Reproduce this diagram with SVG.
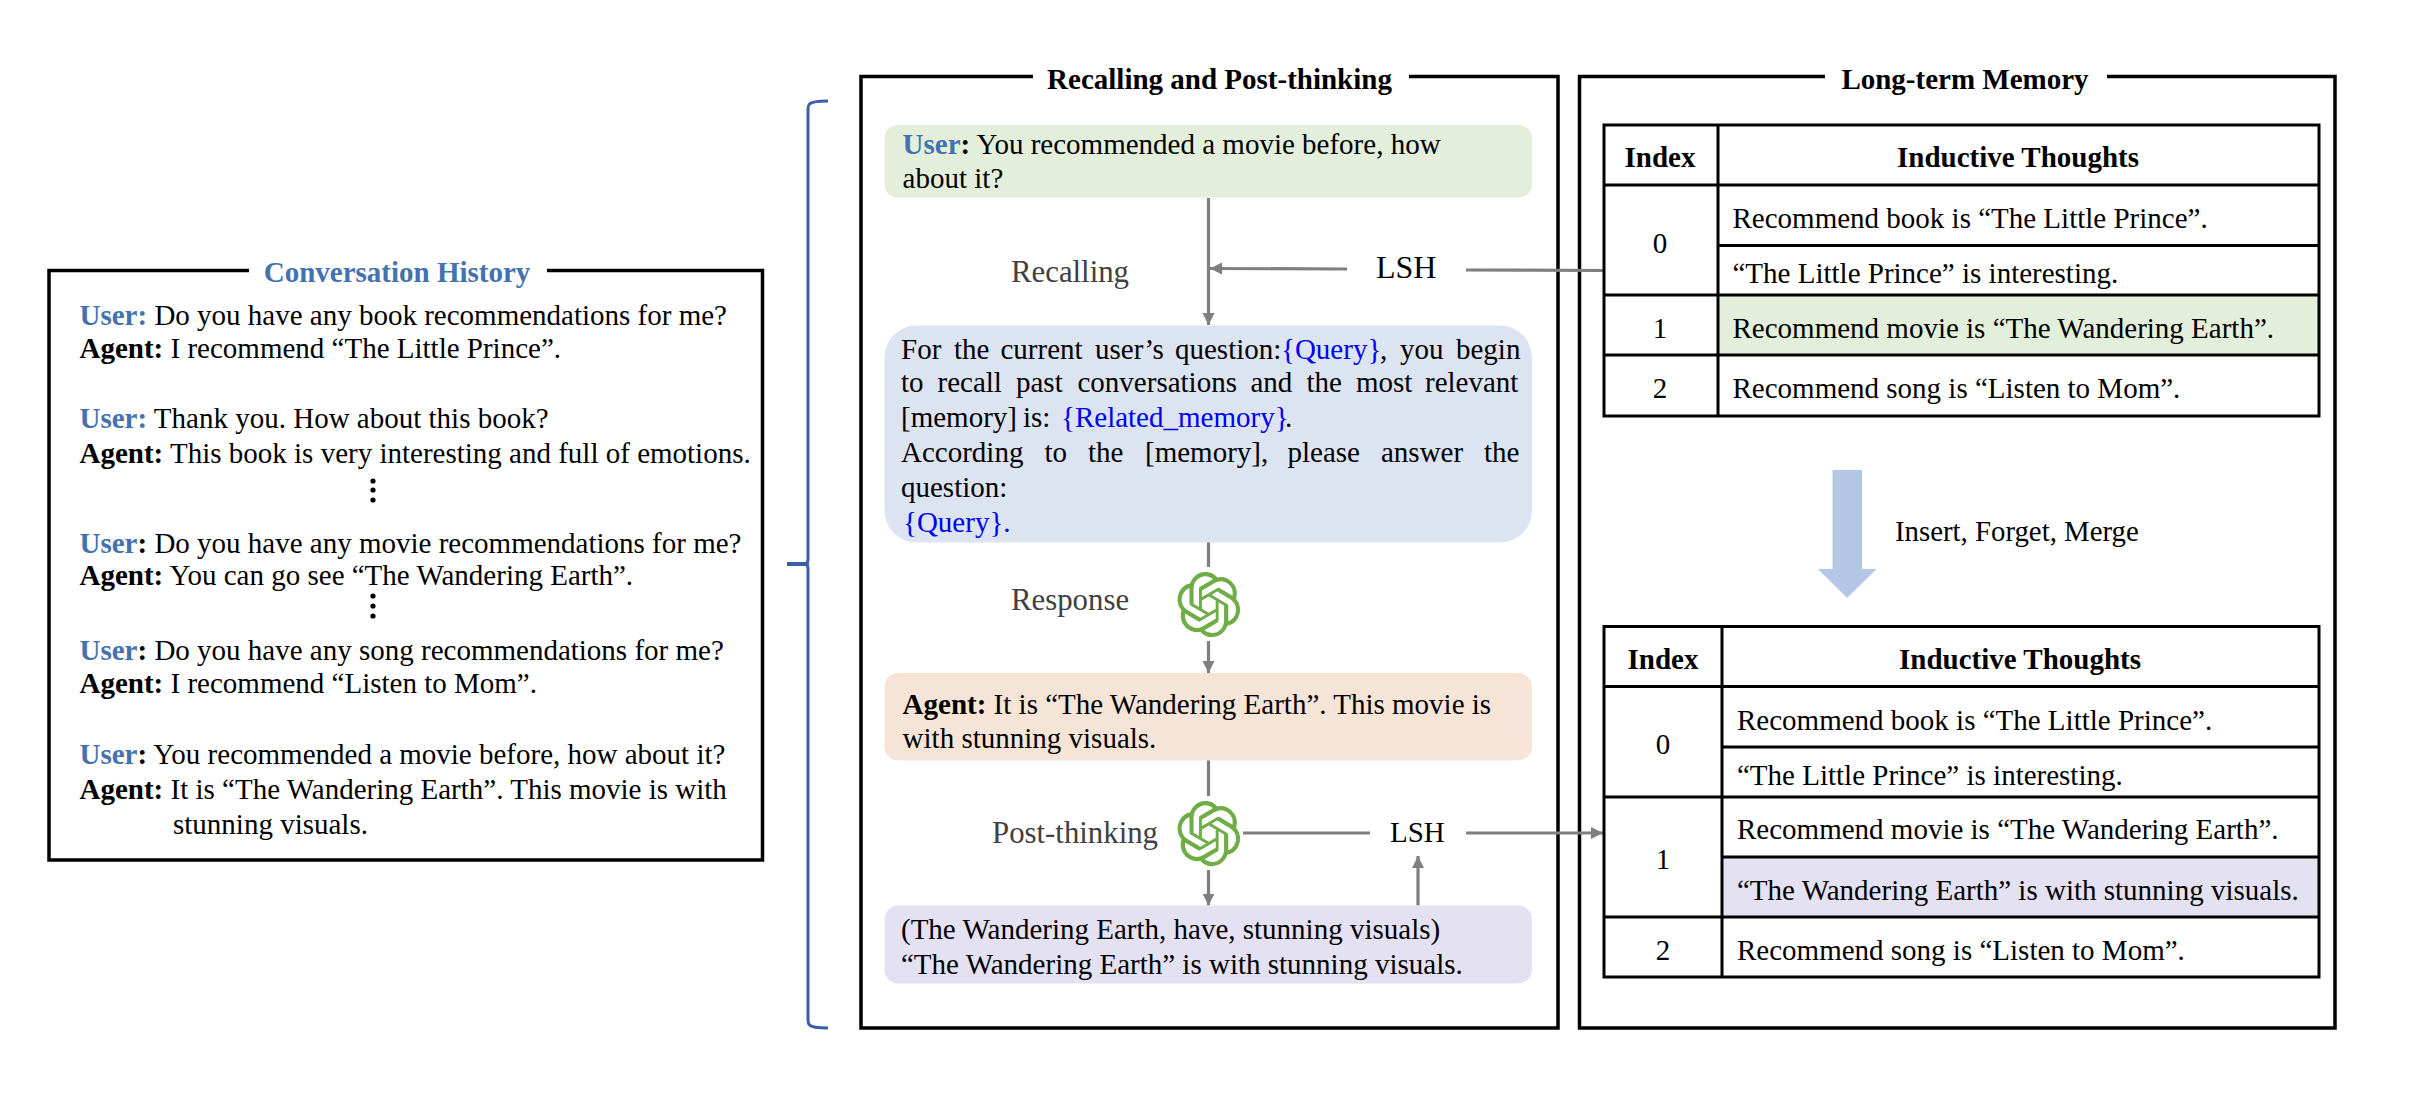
<svg xmlns="http://www.w3.org/2000/svg" xmlns:xlink="http://www.w3.org/1999/xlink" width="2410" height="1096" viewBox="0 0 2410 1096">
<style>
text{font-family:"Liberation Serif","Times New Roman",serif;font-size:29px;fill:#000}
.b{font-weight:700}
.u{font-weight:700;fill:#4472B0}
.q{fill:#0000F0}
.g{fill:#404040;font-size:30.8px}
.t{font-weight:700}
.m{text-anchor:middle}
.frame{fill:none;stroke:#000;stroke-width:3.5}
.cell{fill:none;stroke:#000;stroke-width:3}
.con{fill:none;stroke:#7F7F7F;stroke-width:3.2}
.arr{marker-end:url(#ah)}
.dot{fill:#000}
</style>
<defs>
<marker id="ah" markerUnits="userSpaceOnUse" markerWidth="13" markerHeight="14" refX="12" refY="6.5" orient="auto">
<path d="M0 0.5L12 6.5L0 12.5Z" fill="#7F7F7F"/>
</marker>
<path id="logo" fill="#70AD47" d="M22.2819 9.8211a5.9847 5.9847 0 0 0-.5157-4.9108 6.0462 6.0462 0 0 0-6.5098-2.9A6.0651 6.0651 0 0 0 4.9807 4.1818a5.9847 5.9847 0 0 0-3.9977 2.9 6.0462 6.0462 0 0 0 .7427 7.0966 5.98 5.98 0 0 0 .511 4.9107 6.051 6.051 0 0 0 6.5146 2.9001A5.9847 5.9847 0 0 0 13.2599 24a6.0557 6.0557 0 0 0 5.7718-4.2058 5.9894 5.9894 0 0 0 3.9977-2.9001 6.0557 6.0557 0 0 0-.7475-7.0729zm-9.022 12.6081a4.4755 4.4755 0 0 1-2.8764-1.0408l.1419-.0804 4.7783-2.7582a.7948.7948 0 0 0 .3927-.6813v-6.7369l2.02 1.1686a.071.071 0 0 1 .038.052v5.5826a4.504 4.504 0 0 1-4.4945 4.4944zm-9.6607-4.1254a4.4708 4.4708 0 0 1-.5346-3.0137l.142.0852 4.783 2.7582a.7712.7712 0 0 0 .7806 0l5.8428-3.3685v2.3324a.0804.0804 0 0 1-.0332.0615L9.74 19.9502a4.4992 4.4992 0 0 1-6.1408-1.6464zM2.3408 7.8956a4.485 4.485 0 0 1 2.3655-1.9728V11.6a.7664.7664 0 0 0 .3879.6765l5.8144 3.3543-2.0201 1.1685a.0757.0757 0 0 1-.071 0l-4.8303-2.7865A4.504 4.504 0 0 1 2.3408 7.872zm16.5963 3.8558L13.1038 8.364 15.1192 7.2a.0757.0757 0 0 1 .071 0l4.8303 2.7913a4.4944 4.4944 0 0 1-.6765 8.1042v-5.6772a.79.79 0 0 0-.407-.667zm2.0107-3.0231l-.142-.0852-4.7735-2.7818a.7759.7759 0 0 0-.7854 0L9.409 9.2297V6.8974a.0662.0662 0 0 1 .0284-.0615l4.8303-2.7866a4.4992 4.4992 0 0 1 6.6802 4.66zM8.3065 12.863l-2.02-1.1638a.0804.0804 0 0 1-.038-.0567V6.0742a4.4992 4.4992 0 0 1 7.3757-3.4537l-.142.0805L8.704 5.459a.7948.7948 0 0 0-.3927.6813zm1.0976-2.3654l2.602-1.4998 2.6069 1.4998v2.9994l-2.5974 1.4997-2.6067-1.4997Z"/>
</defs>
<rect width="2410" height="1096" fill="#fff"/>

<g id="conversation-history">
<path class="frame" d="M249 270.5H49V860H762.5V270.5H547"/>
<text class="t m" x="397" y="282" style="fill:#4472B0">Conversation History</text>
<text x="79.5" y="325"><tspan class="u">User:</tspan> Do you have any book recommendations for me?</text>
<text x="79.5" y="358"><tspan class="b">Agent:</tspan> I recommend “The Little Prince”.</text>
<text x="79.5" y="428"><tspan class="u">User:</tspan> Thank you. How about this book?</text>
<text x="79.5" y="463"><tspan class="b">Agent:</tspan> This book is very interesting and full of emotions.</text>
<circle class="dot" cx="373" cy="481" r="2.6"/><circle class="dot" cx="373" cy="490" r="2.6"/><circle class="dot" cx="373" cy="500" r="2.6"/>
<text x="79.5" y="553"><tspan class="u">User</tspan><tspan class="b">:</tspan> Do you have any movie recommendations for me?</text>
<text x="79.5" y="585"><tspan class="b">Agent:</tspan> You can go see “The Wandering Earth”.</text>
<circle class="dot" cx="373" cy="596" r="2.6"/><circle class="dot" cx="373" cy="606" r="2.6"/><circle class="dot" cx="373" cy="616" r="2.6"/>
<text x="79.5" y="660"><tspan class="u">User</tspan><tspan class="b">:</tspan> Do you have any song recommendations for me?</text>
<text x="79.5" y="693"><tspan class="b">Agent:</tspan> I recommend “Listen to Mom”.</text>
<text x="79.5" y="764"><tspan class="u">User</tspan><tspan class="b">:</tspan> You recommended a movie before, how about it?</text>
<text x="79.5" y="799"><tspan class="b">Agent:</tspan> It is “The Wandering Earth”. This movie is with</text>
<text x="173" y="834">stunning visuals.</text>
</g>

<g id="brace">
<path fill="none" stroke="#3F5FA5" stroke-width="3" d="M828 101Q812 101 809.5 104Q808 105.5 808 109V560Q808 563 805 564Q808 565 808 568V1020Q808 1023.5 809.5 1025Q812 1028 828 1028"/>
<path fill="#3F5FA5" d="M787 562H806L810 564L806 566H787Z"/>
</g>

<g id="recalling-panel">
<path class="frame" d="M1033 76.5H861V1028H1558V76.5H1409"/>
<text class="t m" x="1219.5" y="89">Recalling and Post-thinking</text>
</g>

<g id="long-term-memory-panel">
<path class="frame" d="M1825 76.5H1579.5V1028H2335V76.5H2107"/>
<text class="t m" x="1965" y="89">Long-term Memory</text>
</g>

<g id="connectors">
<path class="con arr" d="M1208.5 198V325"/>
<path class="con arr" d="M1347 269L1210 268.5"/>
<path class="con" d="M1466 270L1604 270.5"/>
<path class="con" d="M1208.5 542V567"/>
<path class="con arr" d="M1208.5 641V673"/>
<path class="con" d="M1208.5 759V796"/>
<path class="con" d="M1243 833H1370"/>
<path class="con arr" d="M1466 833H1603"/>
<path class="con arr" d="M1208.5 870V905.5"/>
<path class="con arr" d="M1418 905.5V856"/>
</g>

<g id="user-query">
<rect x="884.5" y="125" width="647.5" height="72.5" rx="13" fill="#E3EEDB"/>
<text x="902.6" y="154"><tspan class="u">User</tspan><tspan class="b">:</tspan> You recommended a movie before, how</text>
<text x="902.6" y="187.5">about it?</text>
</g>

<g id="recall-label"><text class="g" x="1011" y="282">Recalling</text></g>
<g id="lsh-top"><text x="1376" y="278" style="font-size:32px">LSH</text></g>

<g id="recall-prompt">
<rect x="884.5" y="325.5" width="647.5" height="217" rx="32" fill="#DCE3F1"/>
<text y="359"><tspan x="901">For</tspan><tspan x="954">the</tspan><tspan x="1000.5">current</tspan><tspan x="1095">user’s</tspan><tspan x="1175">question:</tspan><tspan class="q" x="1281">{Query}</tspan><tspan x="1380">,</tspan><tspan x="1400">you</tspan><tspan x="1456">begin</tspan></text>
<text y="392"><tspan x="901">to</tspan><tspan x="937.5">recall</tspan><tspan x="1016">past</tspan><tspan x="1077.5">conversations</tspan><tspan x="1250.5">and</tspan><tspan x="1306.5">the</tspan><tspan x="1356">most</tspan><tspan x="1425">relevant</tspan></text>
<text y="427"><tspan x="901">[memory]</tspan><tspan x="1023">is:</tspan><tspan class="q" x="1061">{Related_memory}</tspan><tspan x="1285">.</tspan></text>
<text y="462"><tspan x="901">According</tspan><tspan x="1044.5">to</tspan><tspan x="1088">the</tspan><tspan x="1145">[memory],</tspan><tspan x="1287.5">please</tspan><tspan x="1381">answer</tspan><tspan x="1484">the</tspan></text>
<text x="901" y="497">question:</text>
<text x="903" y="532" class="q">{Query}.</text>
</g>

<g id="llm-response">
<use xlink:href="#logo" href="#logo" transform="translate(1177 572) scale(2.65 2.72)"/>
<text class="g" x="1011" y="610">Response</text>
</g>

<g id="agent-answer">
<rect x="884.5" y="673" width="647.5" height="87.5" rx="14" fill="#F6E4D7"/>
<text x="902.6" y="714"><tspan class="b">Agent:</tspan> It is “The Wandering Earth”. This movie is</text>
<text x="902.6" y="748">with stunning visuals.</text>
</g>

<g id="llm-post-thinking">
<use xlink:href="#logo" href="#logo" transform="translate(1177 801) scale(2.65 2.72)"/>
<text class="g" x="992" y="843">Post-thinking</text>
</g>

<g id="lsh-bottom"><text x="1390" y="842">LSH</text></g>

<g id="extracted-thought">
<rect x="884.5" y="905.5" width="647.5" height="78" rx="14" fill="#E4E1F2"/>
<text x="901" y="939">(The Wandering Earth, have, stunning visuals)</text>
<text x="901" y="974">“The Wandering Earth” is with stunning visuals.</text>
</g>

<g id="memory-table-before">
<rect x="1718" y="295" width="601" height="60" fill="#E3EEDB"/>
<path class="cell" d="M1604 125H2319V416H1604ZM1718 125V416M1604 185H2319M1718 245.5H2319M1604 295H2319M1604 355H2319"/>
<text class="b m" x="1660" y="167">Index</text>
<text class="b m" x="2018" y="167">Inductive Thoughts</text>
<text class="m" x="1660" y="252.5">0</text>
<text x="1732.5" y="228">Recommend book is “The Little Prince”.</text>
<text x="1732.5" y="283">“The Little Prince” is interesting.</text>
<text class="m" x="1660" y="338">1</text>
<text x="1732.5" y="338">Recommend movie is “The Wandering Earth”.</text>
<text class="m" x="1660" y="398">2</text>
<text x="1732.5" y="398">Recommend song is “Listen to Mom”.</text>
</g>

<g id="update-arrow">
<path fill="#B4C7E7" d="M1832.5 470H1862V569H1876.5L1847 598L1818 569H1832.5Z"/>
<text x="1895" y="541" style="font-size:28.8px">Insert, Forget, Merge</text>
</g>

<g id="memory-table-after">
<rect x="1722" y="857" width="597" height="60" fill="#E4E1F2"/>
<path class="cell" d="M1604 626.5H2319V977H1604ZM1722 626.5V977M1604 686.5H2319M1722 747H2319M1604 797H2319M1722 857H2319M1604 917H2319"/>
<text class="b m" x="1663" y="669">Index</text>
<text class="b m" x="2020" y="669">Inductive Thoughts</text>
<text class="m" x="1663" y="754">0</text>
<text x="1737" y="730">Recommend book is “The Little Prince”.</text>
<text x="1737" y="784.5">“The Little Prince” is interesting.</text>
<text class="m" x="1663" y="869">1</text>
<text x="1737" y="839">Recommend movie is “The Wandering Earth”.</text>
<text x="1737" y="900">“The Wandering Earth” is with stunning visuals.</text>
<text class="m" x="1663" y="960">2</text>
<text x="1737" y="960">Recommend song is “Listen to Mom”.</text>
</g>
</svg>
